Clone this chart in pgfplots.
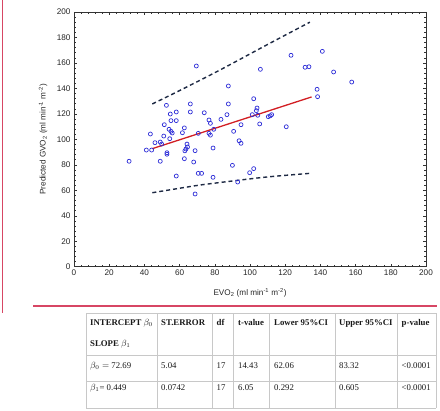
\documentclass[border=0pt]{standalone}
\usepackage{fontspec}
\setmainfont{Liberation Serif}
\newfontfamily\arialfont{Liberation Sans}
\usepackage{pgfplots}
\pgfplotsset{compat=1.18}
\definecolor{markblue}{RGB}{45,45,215}
\definecolor{fitred}{RGB}{210,30,35}
\definecolor{bandnavy}{RGB}{30,42,68}
\definecolor{framered}{RGB}{215,70,100}
\definecolor{gridgray}{RGB}{200,200,200}
\begin{document}
\begin{tikzpicture}[x=1bp,y=1bp]
\path[use as bounding box] (0,0) rectangle (440,410);
\begin{axis}[
  at={(74bp,143.3bp)}, anchor=south west,
  scale only axis, width=352bp, height=254.7bp,
  xmin=0, xmax=200, ymin=0, ymax=200,
  xtick distance=20, ytick distance=20,
  minor tick num=4,
  tick align=inside,
  major tick length=3bp, minor tick length=1.6bp,
  axis line style={black!80, line width=0.6bp},
  every tick/.style={black!80, line width=0.5bp},
  ticklabel style={font=\arialfont\fontsize{8.2}{9}\selectfont, text=black!85},
  /pgf/number format/assume math mode=true,
  xlabel={EVO\textsubscript{2} (ml min\textsuperscript{-1} m\textsuperscript{-2})},
  ylabel={Predicted GVO\textsubscript{2} (ml min\textsuperscript{-1} m\textsuperscript{-2})},
  label style={font=\arialfont\fontsize{8.2}{9}\selectfont, text=black!85},
  xlabel style={at={(axis description cs:0.5,-0.102)}, anchor=center},
  ylabel style={at={(axis description cs:-0.088,0.5)}, anchor=center},
  clip=false,
]
\addplot[only marks, mark=o, mark size=2bp, markblue, mark options={line width=0.7bp}] coordinates {
(31.3,82.8) (41.1,91.6) (43.4,104.2) (44.1,91.6) (46.0,97.4) (49.0,97.9)
(49.8,96.3) (49.0,82.8) (51.3,111.5) (51.0,102.6) (52.5,126.7) (52.8,89.5)
(52.8,88.3) (54.0,107.9) (55.1,106.3) (54.4,100.5) (54.7,119.9) (55.1,114.7)
(55.8,105.0) (58.1,121.5) (58.1,114.7) (58.1,71.2) (61.6,105.2) (62.7,109.0)
(62.7,84.8) (63.6,92.4) (64.2,96.3) (64.5,94.0) (63.0,91.0) (66.1,127.8)
(66.1,121.5) (68.0,82.2) (68.8,91.1) (68.8,57.1) (69.5,157.6) (70.6,104.7)
(70.6,73.3) (72.5,73.3) (74.0,120.9) (76.7,115.2) (77.5,112.6) (76.7,104.7)
(77.5,103.3) (79.4,107.9) (79.0,93.2) (79.0,70.2) (83.5,115.7) (86.9,119.4)
(87.7,127.8) (87.7,141.9) (90.7,106.3) (90.0,79.6) (93.0,66.5) (93.8,98.9)
(94.9,96.9) (94.9,111.5) (99.8,73.8) (101.3,119.4) (102.1,131.9) (102.1,77.0)
(103.6,122.5) (104.0,124.6) (104.4,118.9) (105.5,112.1) (105.9,155.0) (110.4,117.8)
(112.3,119.4) (111.5,118.5) (120.6,109.9) (123.3,166.0) (131.3,156.6) (133.5,157.0)
(138.1,139.3) (138.4,133.5) (141.1,169.1) (147.5,152.9) (157.8,145.0)
};
\addplot[fitred, line width=1.3bp] coordinates {(44.5,92.7) (135,133.3)};
\addplot[bandnavy, line width=1.4bp, dash pattern=on 4bp off 3bp, smooth] coordinates {
(44.5,127.8) (60,138.3) (83,154.5) (110,174.5) (134,192.0)};
\addplot[bandnavy, line width=1.4bp, dash pattern=on 4bp off 3bp, smooth] coordinates {
(44.5,58.1) (60,61.6) (72,64.2) (90,67.3) (110,70.5) (134,73.3)};
\end{axis}
% decorative frame lines
\draw[framered, line width=1.3bp] (2.5,410) -- (2.5,97);
\draw[framered, line width=1.3bp] (33,104) -- (437,104);
% table grid
\begin{scope}[gridgray, line width=0.6bp]
\foreach \yy in {97,55,29,2} \draw (86,\yy) -- (436,\yy);
\foreach \xx in {86,157,212,233,269,335,397,436} \draw (\xx,97) -- (\xx,2);
\end{scope}
\begin{scope}[every node/.style={anchor=base west, inner sep=0pt, font=\fontsize{8.8}{10}\selectfont, text=black!90}]
\node at (90,85) {\textbf{INTERCEPT} $\beta_0$};
\node at (90,64) {\textbf{SLOPE} $\beta_1$};
\node at (161,85) {\textbf{ST.ERROR}};
\node at (216.5,85) {\textbf{df}};
\node at (238,85) {\textbf{t-value}};
\node at (274,85) {\textbf{Lower 95\%CI}};
\node at (339,85) {\textbf{Upper 95\%CI}};
\node at (401.5,85) {\textbf{p-value}};
\node at (90,42) {$\beta_0 =$ 72.69};
\node at (161,42) {5.04};
\node at (216.5,42) {17};
\node at (238,42) {14.43};
\node at (274,42) {62.06};
\node at (339,42) {83.32};
\node at (401.5,42) {<0.0001};
\node at (90,20) {$\beta_1$= 0.449};
\node at (161,20) {0.0742};
\node at (216.5,20) {17};
\node at (238,20) {6.05};
\node at (274,20) {0.292};
\node at (339,20) {0.605};
\node at (401.5,20) {<0.0001};
\end{scope}
\end{tikzpicture}
\end{document}
